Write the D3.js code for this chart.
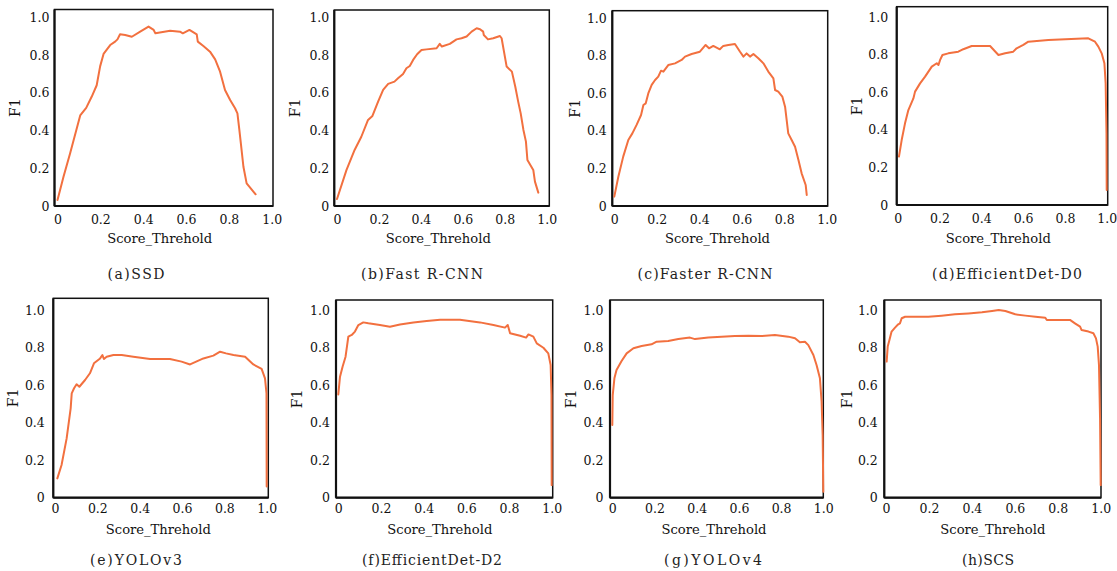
<!DOCTYPE html>
<html>
<head>
<meta charset="utf-8">
<script src="https://cdn.jsdelivr.net/npm/d3@7"></script>
<style>
  html, body { margin: 0; padding: 0; background: #ffffff; }
  svg { display: block; }
  svg text { font-family: "DejaVu Serif", "Liberation Serif", serif; }
</style>
</head>
<body>
<svg id="chart" width="1117" height="571"></svg>
<script>
// ---------------- DATA ----------------
const panelIds = ["a", "b", "c", "d", "e", "f", "g", "h"];
const panelNames = ["SSD", "Fast R-CNN", "Faster R-CNN", "EfficientDet-D0", "YOLOv3", "EfficientDet-D2", "YOLOv4", "SCS"];
const tickValues = [0, 0.2, 0.4, 0.6, 0.8, 1.0];
const tickLabels = ["0", "0.2", "0.4", "0.6", "0.8", "1.0"];
const xTitle = "Score_Threhold";
const yTitle = "F1";

const ssdThreshold = [0.0, 0.028, 0.059, 0.106, 0.134, 0.16, 0.183, 0.199, 0.215, 0.246, 0.269, 0.28, 0.292, 0.316, 0.347, 0.386, 0.425, 0.449, 0.457, 0.526, 0.572, 0.585, 0.616, 0.65, 0.655, 0.681, 0.712, 0.736, 0.759, 0.782, 0.806, 0.829, 0.84, 0.849, 0.856, 0.868, 0.883, 0.925];
const ssdF1 = [0.032, 0.155, 0.28, 0.48, 0.52, 0.58, 0.64, 0.74, 0.806, 0.853, 0.871, 0.883, 0.91, 0.906, 0.897, 0.924, 0.951, 0.933, 0.915, 0.929, 0.924, 0.915, 0.933, 0.91, 0.871, 0.848, 0.818, 0.777, 0.712, 0.615, 0.562, 0.518, 0.491, 0.403, 0.332, 0.208, 0.12, 0.062];

const fastThreshold = [0.0, 0.045, 0.084, 0.116, 0.148, 0.169, 0.196, 0.22, 0.244, 0.274, 0.291, 0.315, 0.331, 0.347, 0.363, 0.382, 0.403, 0.427, 0.475, 0.49, 0.5, 0.538, 0.57, 0.594, 0.618, 0.642, 0.666, 0.682, 0.697, 0.7, 0.72, 0.745, 0.777, 0.785, 0.809, 0.834, 0.85, 0.864, 0.876, 0.889, 0.901, 0.908, 0.936, 0.944, 0.96];
const fastF1 = [0.037, 0.19, 0.297, 0.367, 0.456, 0.477, 0.553, 0.615, 0.647, 0.659, 0.677, 0.7, 0.73, 0.742, 0.774, 0.804, 0.827, 0.83, 0.836, 0.859, 0.845, 0.859, 0.883, 0.889, 0.898, 0.924, 0.942, 0.937, 0.924, 0.906, 0.883, 0.889, 0.901, 0.889, 0.739, 0.712, 0.633, 0.553, 0.491, 0.403, 0.341, 0.244, 0.191, 0.129, 0.071];

const fasterThreshold = [0.0, 0.019, 0.042, 0.066, 0.085, 0.105, 0.126, 0.137, 0.148, 0.16, 0.176, 0.192, 0.207, 0.22, 0.231, 0.254, 0.286, 0.317, 0.333, 0.364, 0.403, 0.43, 0.446, 0.466, 0.497, 0.513, 0.537, 0.568, 0.592, 0.608, 0.623, 0.639, 0.655, 0.678, 0.702, 0.725, 0.749, 0.757, 0.772, 0.791, 0.804, 0.819, 0.835, 0.851, 0.867, 0.882, 0.901, 0.906];
const fasterF1 = [0.05, 0.156, 0.263, 0.352, 0.387, 0.432, 0.485, 0.538, 0.547, 0.6, 0.645, 0.671, 0.689, 0.721, 0.716, 0.751, 0.76, 0.778, 0.796, 0.81, 0.822, 0.858, 0.84, 0.853, 0.835, 0.853, 0.858, 0.863, 0.822, 0.796, 0.813, 0.796, 0.81, 0.787, 0.76, 0.716, 0.68, 0.618, 0.609, 0.583, 0.529, 0.387, 0.352, 0.316, 0.245, 0.174, 0.112, 0.059];

const d0Threshold = [0.006, 0.019, 0.035, 0.051, 0.075, 0.083, 0.107, 0.131, 0.163, 0.187, 0.195, 0.203, 0.214, 0.242, 0.29, 0.314, 0.354, 0.442, 0.482, 0.514, 0.553, 0.569, 0.601, 0.625, 0.721, 0.912, 0.944, 0.96, 0.976, 0.989, 0.995, 0.999, 1.0];
const d0F1 = [0.258, 0.346, 0.435, 0.506, 0.568, 0.604, 0.648, 0.684, 0.737, 0.755, 0.746, 0.773, 0.799, 0.808, 0.817, 0.83, 0.847, 0.847, 0.799, 0.808, 0.817, 0.835, 0.853, 0.87, 0.879, 0.888, 0.87, 0.844, 0.808, 0.755, 0.648, 0.382, 0.08];

const yolov3Threshold = [0.011, 0.031, 0.055, 0.074, 0.079, 0.09, 0.102, 0.115, 0.142, 0.165, 0.184, 0.213, 0.224, 0.231, 0.244, 0.276, 0.315, 0.37, 0.449, 0.543, 0.598, 0.638, 0.701, 0.748, 0.78, 0.808, 0.843, 0.898, 0.937, 0.976, 0.992, 0.999, 1.0];
const yolov3F1 = [0.103, 0.174, 0.316, 0.476, 0.556, 0.583, 0.604, 0.591, 0.627, 0.663, 0.716, 0.742, 0.76, 0.739, 0.751, 0.76, 0.76, 0.751, 0.739, 0.739, 0.725, 0.71, 0.742, 0.757, 0.778, 0.769, 0.76, 0.751, 0.71, 0.686, 0.636, 0.556, 0.06];

const d2Threshold = [0.0, 0.008, 0.02, 0.034, 0.047, 0.063, 0.078, 0.094, 0.117, 0.141, 0.195, 0.242, 0.289, 0.352, 0.414, 0.477, 0.57, 0.664, 0.727, 0.781, 0.794, 0.805, 0.852, 0.88, 0.891, 0.914, 0.93, 0.961, 0.984, 0.995, 0.999, 1.0];
const d2F1 = [0.55, 0.645, 0.698, 0.751, 0.858, 0.867, 0.885, 0.92, 0.934, 0.929, 0.92, 0.911, 0.923, 0.934, 0.941, 0.948, 0.948, 0.934, 0.92, 0.906, 0.92, 0.876, 0.863, 0.853, 0.87, 0.858, 0.822, 0.799, 0.769, 0.707, 0.547, 0.067];

const yolov4Threshold = [0.0, 0.002, 0.01, 0.02, 0.044, 0.068, 0.1, 0.139, 0.186, 0.21, 0.265, 0.313, 0.368, 0.392, 0.455, 0.518, 0.581, 0.645, 0.708, 0.771, 0.834, 0.866, 0.889, 0.913, 0.929, 0.953, 0.968, 0.984, 0.992, 0.997, 1.0];
const yolov4F1 = [0.387, 0.547, 0.636, 0.68, 0.728, 0.769, 0.796, 0.808, 0.817, 0.831, 0.835, 0.845, 0.853, 0.845, 0.853, 0.858, 0.861, 0.863, 0.861, 0.867, 0.858, 0.849, 0.828, 0.831, 0.813, 0.76, 0.707, 0.636, 0.511, 0.334, 0.032];

const scsThreshold = [0.003, 0.008, 0.016, 0.026, 0.042, 0.057, 0.065, 0.073, 0.089, 0.197, 0.259, 0.321, 0.384, 0.447, 0.494, 0.525, 0.556, 0.602, 0.649, 0.696, 0.742, 0.749, 0.818, 0.857, 0.88, 0.904, 0.911, 0.943, 0.966, 0.978, 0.986, 0.992, 0.997, 1.0];
const scsF1 = [0.725, 0.805, 0.84, 0.885, 0.906, 0.924, 0.929, 0.956, 0.964, 0.964, 0.97, 0.977, 0.982, 0.988, 0.995, 1.0, 0.995, 0.977, 0.97, 0.964, 0.959, 0.947, 0.947, 0.947, 0.929, 0.911, 0.893, 0.885, 0.876, 0.849, 0.805, 0.707, 0.423, 0.067];

const seriesX = [ssdThreshold, fastThreshold, fasterThreshold, d0Threshold, yolov3Threshold, d2Threshold, yolov4Threshold, scsThreshold];
const seriesY = [ssdF1, fastF1, fasterF1, d0F1, yolov3F1, d2F1, yolov4F1, scsF1];

// ---------------- LAYOUT (positions only) ----------------
const layout = [
  { box: [54.5, 9.5, 273, 206],   x: [57.5, 271.7],  y: [206, 17.3],   yPad: 5,   xPad: 9, yt: 15,    tx: 159.7, ty: 243, cx: 136,  cy: 279 },
  { box: [334.3, 10, 549.3, 206], x: [337, 546.7],   y: [206, 17.3],   yPad: 5,   xPad: 9, yt: 295,   tx: 438.3, ty: 243, cx: 422,  cy: 279 },
  { box: [612.3, 10.7, 827.7, 206], x: [614.3, 826.7], y: [206, 18.3], yPad: 5.5, xPad: 9, yt: 575,   tx: 717.5, ty: 243, cx: 705,  cy: 279 },
  { box: [896.7, 6.7, 1107.7, 205], x: [897.7, 1106.7], y: [205, 17.3], yPad: 8.5, xPad: 9, yt: 856.7, tx: 998.3, ty: 243, cx: 1007, cy: 279 },
  { box: [53.3, 298.3, 268.3, 497.7], x: [55, 266.7],  y: [497.7, 310], yPad: 8.5, xPad: 6, yt: 13.3,  tx: 158.3, ty: 534, cx: 136,  cy: 565 },
  { box: [336, 300, 552.7, 497.7], x: [338.3, 551.7],  y: [497.7, 310], yPad: 6,   xPad: 6, yt: 297.3, tx: 439.8, ty: 534, cx: 432,  cy: 565 },
  { box: [610, 300, 823.3, 497.7], x: [612.3, 823.3],  y: [497.7, 310], yPad: 6.5, xPad: 6, yt: 571,   tx: 714,   ty: 534, cx: 713,  cy: 565 },
  { box: [884.3, 300, 1101, 497.7], x: [886, 1100.7],  y: [497.7, 310], yPad: 6.5, xPad: 6, yt: 846.7, tx: 992.8, ty: 534, cx: 988,  cy: 565 }
];
const captionWidths = [57, 122, 135, 150, 92, 140, 98, 52];

const lineColor = "#f2703f";

// ---------------- DRAW ----------------
const svg = d3.select("#chart");

panelIds.forEach((id, i) => {
  const L = layout[i];
  const g = svg.append("g");
  const x = d3.scaleLinear().domain([0, 1]).range(L.x);
  const y = d3.scaleLinear().domain([0, 1]).range(L.y);

  // frame
  g.append("rect")
    .attr("x", L.box[0]).attr("y", L.box[1])
    .attr("width", L.box[2] - L.box[0]).attr("height", L.box[3] - L.box[1])
    .attr("fill", "none").attr("stroke", "#111").attr("stroke-width", 1.5);
  g.append("line").attr("x1", L.box[0]).attr("x2", L.box[2]).attr("y1", L.box[3]).attr("y2", L.box[3])
    .attr("stroke", "#111").attr("stroke-width", 2.2);
  g.append("line").attr("x1", L.box[0]).attr("x2", L.box[0]).attr("y1", L.box[1]).attr("y2", L.box[3])
    .attr("stroke", "#111").attr("stroke-width", 2.2);

  // x axis
  const xAxis = d3.axisBottom(x).tickValues(tickValues).tickSize(0).tickPadding(L.xPad)
    .tickFormat((d, k) => tickLabels[k]);
  const gx = g.append("g").attr("transform", `translate(0,${L.box[3]})`).call(xAxis);
  gx.select(".domain").remove();
  gx.selectAll("text").style("font-family", "DejaVu Serif, serif").attr("font-size", 12.5).attr("fill", "#111");

  // y axis
  const yAxis = d3.axisLeft(y).tickValues(tickValues).tickSize(0).tickPadding(L.yPad)
    .tickFormat((d, k) => tickLabels[k]);
  const gy = g.append("g").attr("transform", `translate(${L.box[0]},0)`).call(yAxis);
  gy.select(".domain").remove();
  gy.selectAll("text").style("font-family", "DejaVu Serif, serif").attr("font-size", 12.5).attr("fill", "#111");

  // titles
  g.append("text").attr("x", L.tx).attr("y", L.ty).attr("text-anchor", "middle")
    .attr("font-size", 13.5).attr("fill", "#111")
    .attr("textLength", 105).attr("lengthAdjust", "spacingAndGlyphs")
    .text(xTitle);
  const ymid = (L.box[1] + L.box[3]) / 2;
  g.append("text").attr("transform", `translate(${L.yt + 5},${ymid}) rotate(-90)`)
    .attr("text-anchor", "middle")
    .attr("font-size", 14).attr("fill", "#111")
    .text(yTitle);

  // caption
  g.append("text").attr("x", L.cx).attr("y", L.cy).attr("text-anchor", "middle")
    .attr("font-size", 14).attr("fill", "#222")
    .attr("textLength", captionWidths[i]).attr("lengthAdjust", "spacing")
    .text("(" + id + ")" + panelNames[i]);

  // curve
  const pts = seriesX[i].map((v, k) => [v, seriesY[i][k]]);
  const line = d3.line().x(d => x(d[0])).y(d => y(d[1]));
  g.append("path").datum(pts).attr("d", line)
    .attr("fill", "none").attr("stroke", lineColor).attr("stroke-width", 2)
    .attr("stroke-linejoin", "round").attr("stroke-linecap", "round");
});
</script>
</body>
</html>
